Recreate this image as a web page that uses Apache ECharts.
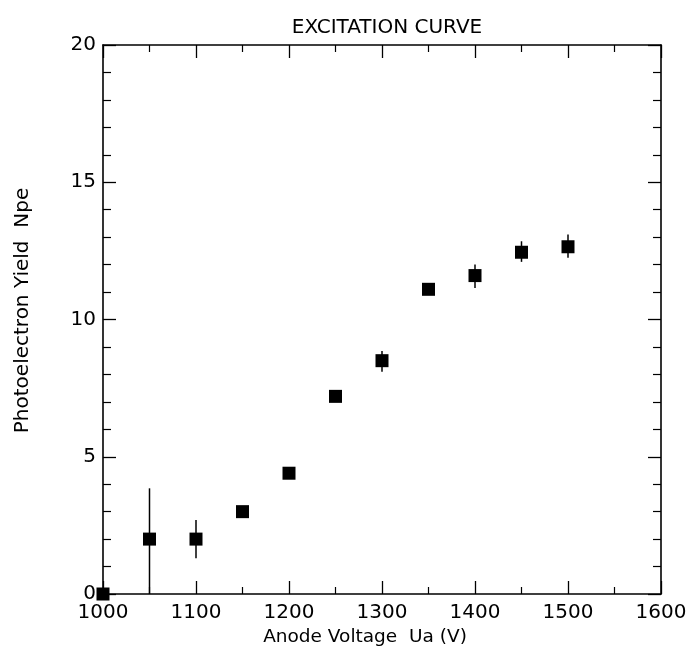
<!DOCTYPE html>
<html>
<head>
<meta charset="utf-8">
<script src="https://cdn.jsdelivr.net/npm/echarts@6/dist/echarts.min.js"></script>
<style>html,body{margin:0;padding:0;background:#fff}#c{width:690px;height:654px}</style>
</head>
<body>
<div id="c"></div>
<script>
var voltages = [1000, 1050, 1100, 1150, 1200, 1250, 1300, 1350, 1400, 1450, 1500];
var yields   = [0, 2.0, 2.0, 3.0, 4.4, 7.2, 8.5, 11.1, 11.6, 12.45, 12.65];
var errLow   = [0, 0.0, 1.3, 3.0, 4.4, 7.2, 8.1, 11.1, 11.15, 12.1, 12.25];
var errHigh  = [0, 3.85, 2.7, 3.0, 4.4, 7.2, 8.85, 11.1, 12.0, 12.85, 13.1];
var xTicks = [1000, 1100, 1200, 1300, 1400, 1500, 1600];
var yTicks = [0, 5, 10, 15, 20];

var font = 'DejaVu Sans';
var points = voltages.map(function (v, i) { return [v, yields[i]]; });
var bars = voltages.map(function (v, i) { return [v, errLow[i], errHigh[i]]; });

var chart = echarts.init(document.getElementById('c'), null, {renderer: 'canvas'});
function axisCommon(extra) {
  return Object.assign({
    type: 'value',
    axisLine: {show: true, onZero: false, lineStyle: {color: '#000', width: 1.6}},
    axisTick: {show: true, inside: true, length: 13, lineStyle: {color: '#000', width: 1.3}},
    splitLine: {show: false}
  }, extra);
}
var xMinor = {show: true, splitNumber: 2, length: 7, lineStyle: {color: '#000', width: 1.2}};
var yMinor = {show: true, splitNumber: 5, length: 8, lineStyle: {color: '#000', width: 1.2}};
chart.setOption({
  animation: false,
  title: {
    text: 'EXCITATION CURVE', left: 382, top: 13, textAlign: 'center',
    textStyle: {fontFamily: font, fontSize: 20, fontWeight: 'normal', color: '#000'}
  },
  grid: {left: 103, right: 29, top: 45, bottom: 60},
  xAxis: [
    axisCommon({
      min: 1000, max: 1600, interval: 100, position: 'bottom',
      minorTick: xMinor,
      axisLabel: {show: true, margin: 9, color: '#000', fontFamily: font, fontSize: 20,
        formatter: function (v) { return xTicks.indexOf(v) >= 0 ? String(v) : ''; }},
      name: 'Anode Voltage  Ua (V)', nameLocation: 'middle', nameGap: 33,
      nameTextStyle: {fontFamily: font, fontSize: 18.5, color: '#000', padding: [0, 34, 0, 0]}
    }),
    axisCommon({
      min: 1000, max: 1600, interval: 100, position: 'top',
      minorTick: xMinor,
      axisLabel: {show: false}
    })
  ],
  yAxis: [
    axisCommon({
      min: 0, max: 20, interval: 5, position: 'left',
      minorTick: yMinor,
      axisLabel: {show: true, margin: 7, color: '#000', fontFamily: font, fontSize: 20,
        formatter: function (v) { return yTicks.indexOf(v) >= 0 ? String(v) : ''; }},
      name: 'Photoelectron Yield  Npe', nameLocation: 'middle', nameGap: 70, nameRotate: 90,
      nameTextStyle: {fontFamily: font, fontSize: 20, color: '#000', padding: [0, 0, 0, 18]}
    }),
    axisCommon({
      min: 0, max: 20, interval: 5, position: 'right',
      minorTick: yMinor,
      axisLabel: {show: false}
    })
  ],
  series: [
    {
      type: 'custom',
      xAxisIndex: 0, yAxisIndex: 0,
      clip: false,
      data: bars,
      renderItem: function (params, api) {
        var lo = api.coord([api.value(0), api.value(1)]);
        var hi = api.coord([api.value(0), api.value(2)]);
        return {
          type: 'line',
          shape: {x1: lo[0], y1: lo[1], x2: hi[0], y2: hi[1]},
          style: {stroke: '#000', lineWidth: 1.5}
        };
      },
      z: 3
    },
    {
      type: 'scatter',
      xAxisIndex: 0, yAxisIndex: 0,
      clip: false,
      symbol: 'rect',
      symbolSize: 13,
      itemStyle: {color: '#000', opacity: 1},
      data: points,
      z: 4
    }
  ]
});
</script>
</body>
</html>
